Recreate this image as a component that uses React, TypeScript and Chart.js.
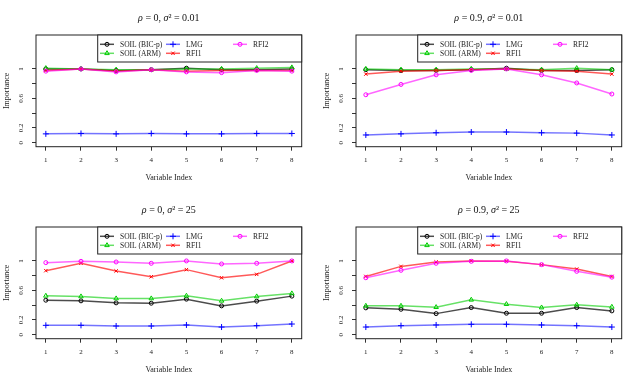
import React, { useEffect, useRef } from "react";
import { Chart, registerables } from "chart.js";
import { drawPoint } from "chart.js/helpers";

Chart.register(...registerables);

const xValues = [1, 2, 3, 4, 5, 6, 7, 8];
const xTickLabels = ["1", "2", "3", "4", "5", "6", "7", "8"];
const yTickValues = [0, 0.2, 0.4, 0.6, 0.8, 1];
const yTickLabels = ["0", "0.2", "", "0.6", "", "1"];

const seriesNames = ["SOIL (BIC-p)", "SOIL (ARM)", "LMG", "RFI1", "RFI2"];

// panel titles: rho value and sigma^2 value
const rhoValues = ["0", "0.9", "0", "0.9"];
const sigma2Values = ["0.01", "0.01", "25", "25"];

// Panel 1: rho = 0, sigma^2 = 0.01
const p1Bic = [1.0, 1.0, 0.98, 0.99, 1.01, 0.99, 0.99, 1.0];
const p1Arm = [1.01, 1.0, 0.99, 0.99, 1.0, 1.0, 1.01, 1.02];
const p1Lmg = [0.12, 0.125, 0.12, 0.125, 0.12, 0.12, 0.125, 0.125];
const p1Rfi1 = [0.98, 1.0, 0.97, 0.99, 0.97, 0.98, 0.98, 0.98];
const p1Rfi2 = [0.97, 1.0, 0.96, 0.99, 0.96, 0.95, 0.98, 0.97];

// Panel 2: rho = 0.9, sigma^2 = 0.01
const p2Bic = [0.99, 0.98, 0.98, 0.99, 1.01, 0.98, 0.98, 0.99];
const p2Arm = [1.0, 0.99, 0.99, 1.0, 1.0, 0.99, 1.01, 0.99];
const p2Lmg = [0.105, 0.12, 0.135, 0.145, 0.145, 0.135, 0.13, 0.105];
const p2Rfi1 = [0.93, 0.97, 0.98, 0.99, 1.0, 0.98, 0.97, 0.93];
const p2Rfi2 = [0.65, 0.79, 0.92, 0.98, 1.0, 0.92, 0.81, 0.66];

// Panel 3: rho = 0, sigma^2 = 25
const p3Bic = [0.468, 0.459, 0.432, 0.427, 0.482, 0.391, 0.455, 0.523];
const p3Arm = [0.527, 0.518, 0.491, 0.491, 0.527, 0.459, 0.518, 0.559];
const p3Lmg = [0.127, 0.127, 0.118, 0.118, 0.132, 0.104, 0.123, 0.145];
const p3Rfi1 = [0.868, 0.968, 0.864, 0.786, 0.882, 0.772, 0.818, 1.0];
const p3Rfi2 = [0.977, 0.995, 0.986, 0.968, 1.0, 0.959, 0.968, 1.0];

// Panel 4: rho = 0.9, sigma^2 = 25
const p4Bic = [0.364, 0.345, 0.286, 0.368, 0.291, 0.291, 0.368, 0.323];
const p4Arm = [0.391, 0.391, 0.373, 0.473, 0.414, 0.368, 0.405, 0.377];
const p4Lmg = [0.104, 0.123, 0.132, 0.141, 0.141, 0.132, 0.123, 0.104];
const p4Rfi1 = [0.79, 0.926, 0.986, 1.0, 0.995, 0.95, 0.89, 0.79];
const p4Rfi2 = [0.772, 0.873, 0.968, 0.995, 1.0, 0.95, 0.859, 0.78];

const panels = [
  [p1Bic, p1Arm, p1Lmg, p1Rfi1, p1Rfi2],
  [p2Bic, p2Arm, p2Lmg, p2Rfi1, p2Rfi2],
  [p3Bic, p3Arm, p3Lmg, p3Rfi1, p3Rfi2],
  [p4Bic, p4Arm, p4Lmg, p4Rfi1, p4Rfi2],
];

const solid = ["#000000", "#00cc00", "#0000ff", "#ff0000", "#ff00ff"];
const lineCols = [
  "rgba(0,0,0,0.7)",
  "rgba(0,205,0,0.6)",
  "rgba(0,0,255,0.55)",
  "rgba(255,0,0,0.65)",
  "rgba(255,0,255,0.6)",
];
const pStyles = ["circle", "triangle", "cross", "crossRot", "circle"];
const pRadius = [2, 2.6, 3, 2.4, 2];

const FONT = "'Liberation Serif', 'Times New Roman', serif";
const W = 320;
const H = 192;

function makeBoxPlugin(idx: number) {
  return {
    id: "rbox",
    afterDraw(chart: any) {
      const { ctx, chartArea } = chart;
      const { left, right, top, bottom } = chartArea;
      ctx.save();
      // title (math-style: greek italic)
      const segs = [
        { t: "ρ", it: true },
        { t: " = " + rhoValues[idx] + ", ", it: false },
        { t: "σ", it: true },
        { t: "²", it: false },
        { t: " = " + sigma2Values[idx], it: false },
      ];
      const fontFor = (it: boolean) => `${it ? "italic " : ""}10px ${FONT}`;
      let total = 0;
      for (const s of segs) {
        ctx.font = fontFor(s.it);
        total += ctx.measureText(s.t).width;
      }
      let tx = (left + right) / 2 - total / 2;
      ctx.fillStyle = "#111";
      ctx.textBaseline = "middle";
      ctx.textAlign = "left";
      for (const s of segs) {
        ctx.font = fontFor(s.it);
        ctx.fillText(s.t, tx, 18.5);
        tx += ctx.measureText(s.t).width;
      }
      // plot box
      ctx.strokeStyle = "#222";
      ctx.lineWidth = 1;
      ctx.strokeRect(left, top, right - left, bottom - top);
      // legend
      const lx = 97.7;
      const ly = top;
      const lh = 27;
      ctx.fillStyle = "#ffffff";
      ctx.fillRect(lx, ly, right - lx, lh);
      ctx.strokeRect(lx, ly, right - lx, lh);
      const items = [
        { i: 0, x: 100, y: ly + 9.3 },
        { i: 1, x: 100, y: ly + 18.3 },
        { i: 2, x: 166, y: ly + 9.3 },
        { i: 3, x: 166, y: ly + 18.3 },
        { i: 4, x: 233, y: ly + 9.3 },
      ];
      ctx.font = `7.5px ${FONT}`;
      ctx.textBaseline = "middle";
      ctx.textAlign = "left";
      for (const it of items) {
        ctx.strokeStyle = lineCols[it.i];
        ctx.lineWidth = 1.5;
        ctx.beginPath();
        ctx.moveTo(it.x, it.y);
        ctx.lineTo(it.x + 14, it.y);
        ctx.stroke();
        ctx.strokeStyle = solid[it.i];
        ctx.fillStyle = "rgba(0,0,0,0)";
        ctx.lineWidth = 1;
        drawPoint(
          ctx,
          { pointStyle: pStyles[it.i], radius: pRadius[it.i], rotation: 0, borderWidth: 1 } as any,
          it.x + 7,
          it.y
        );
        ctx.fillStyle = "#222";
        ctx.fillText(seriesNames[it.i], it.x + 20, it.y + 0.5);
      }
      ctx.restore();
    },
  };
}

function Panel({ idx }: { idx: number }) {
  const ref = useRef<HTMLCanvasElement>(null);
  useEffect(() => {
    const data = panels[idx];
    const datasets = data.map((vals, i) => ({
      label: seriesNames[i],
      data: xValues.map((x, k) => ({ x, y: vals[k] })),
      borderColor: lineCols[i],
      borderWidth: 1.5,
      pointStyle: pStyles[i],
      pointRadius: pRadius[i],
      pointBorderColor: solid[i],
      pointBackgroundColor: "rgba(0,0,0,0)",
      pointBorderWidth: 1,
      tension: 0,
      order: 5 - i,
    }));
    const chart = new Chart(ref.current as HTMLCanvasElement, {
      type: "line",
      data: { datasets },
      options: {
        animation: false,
        responsive: false,
        layout: { padding: { left: 0, right: 18.3, top: 35, bottom: 0 } },
        plugins: {
          legend: { display: false },
          tooltip: { enabled: false },
          title: { display: false },
        },
        scales: {
          x: {
            type: "linear",
            min: 0.72,
            max: 8.28,
            afterBuildTicks: (s: any) => {
              s.ticks = xValues.map((v) => ({ value: v }));
            },
            afterFit: (s: any) => {
              s.height = 45.3;
            },
            ticks: {
              callback: (v: any) => xTickLabels[xValues.indexOf(Number(v))] ?? "",
              font: { family: FONT, size: 7 },
              color: "#222",
              padding: 5,
              maxRotation: 0,
              minRotation: 0,
              autoSkip: false,
            },
            grid: {
              display: true,
              drawOnChartArea: false,
              drawTicks: true,
              tickLength: 4,
              color: "#333",
            },
            border: { display: false },
            title: {
              display: true,
              text: "Variable Index",
              color: "#222",
              font: { family: FONT, size: 8 },
              padding: { top: 0, bottom: 9 },
            },
          },
          y: {
            type: "linear",
            min: -0.054,
            max: 1.46,
            afterBuildTicks: (s: any) => {
              s.ticks = yTickValues.map((v) => ({ value: v }));
            },
            afterFit: (s: any) => {
              s.width = 36;
            },
            ticks: {
              callback: (v: any) => {
                const k = yTickValues.findIndex((t) => Math.abs(t - Number(v)) < 1e-9);
                return k >= 0 ? yTickLabels[k] : "";
              },
              font: { family: FONT, size: 7 },
              color: "#222",
              padding: 6,
              minRotation: 90,
              maxRotation: 90,
              crossAlign: "center",
              autoSkip: false,
            },
            grid: {
              display: true,
              drawOnChartArea: false,
              drawTicks: true,
              tickLength: 4,
              color: "#333",
            },
            border: { display: false },
            title: {
              display: true,
              text: "Importance",
              color: "#222",
              font: { family: FONT, size: 8 },
              padding: { top: 2, bottom: 0 },
            },
          },
        },
      } as any,
      plugins: [makeBoxPlugin(idx)],
    });
    return () => chart.destroy();
  }, [idx]);
  const left = (idx % 2) * W;
  const top = Math.floor(idx / 2) * H;
  return (
    <div style={{ position: "absolute", left, top, width: W, height: H }}>
      <canvas ref={ref} width={W} height={H} style={{ width: W, height: H, display: "block" }} />
    </div>
  );
}

export default function App() {
  useEffect(() => {
    document.body.style.margin = "0";
    document.body.style.background = "#ffffff";
  }, []);
  return (
    <div style={{ position: "absolute", left: 0, top: 0, width: 640, height: 384, background: "#fff" }}>
      {[0, 1, 2, 3].map((i) => (
        <Panel key={i} idx={i} />
      ))}
    </div>
  );
}
